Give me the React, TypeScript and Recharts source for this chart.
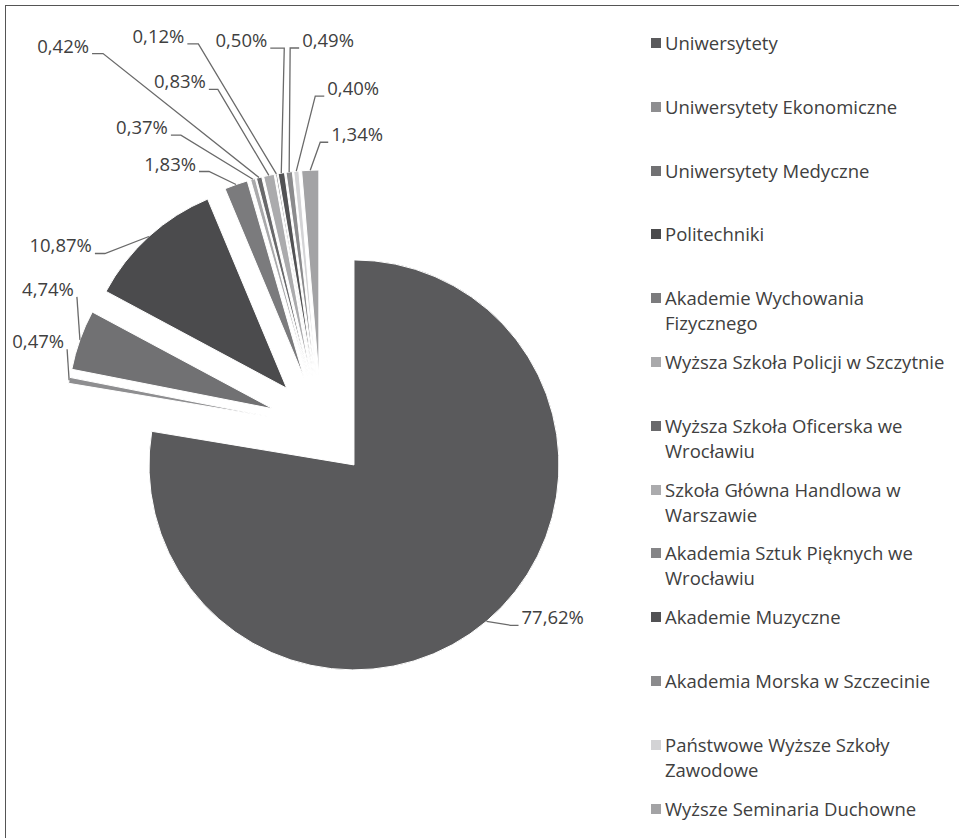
import { Legend, Pie, PieChart, Sector } from "recharts";

const categories = [
  "Uniwersytety",
  "Uniwersytety Ekonomiczne",
  "Uniwersytety Medyczne",
  "Politechniki",
  "Akademie Wychowania Fizycznego",
  "Wyższa Szkoła Policji w Szczytnie",
  "Wyższa Szkoła Oficerska we Wrocławiu",
  "Szkoła Główna Handlowa w Warszawie",
  "Akademia Sztuk Pięknych we Wrocławiu",
  "Akademie Muzyczne",
  "Akademia Morska w Szczecinie",
  "Państwowe Wyższe Szkoły Zawodowe",
  "Wyższe Seminaria Duchowne",
];

const shares = [77.62, 0.47, 4.74, 10.87, 1.83, 0.37, 0.42, 0.83, 0.12, 0.5, 0.49, 0.4, 1.34];

const colors = [
  "#5a5a5c", "#8e8e90", "#717173", "#4b4b4d", "#7b7b7d", "#a9a9ab", "#69696b",
  "#ababad", "#858587", "#525254", "#8b8b8d", "#d3d3d5", "#a3a3a5",
];

// where each percentage label sits, relative to the outer point of its slice
const labelLayout = [
  { dx: 35, dy: 3, side: "right", tail: 8 },
  { dx: -5, dy: -32, side: "left", tail: 0 },
  { dx: -6, dy: -44, side: "left", tail: 0 },
  { dx: -57, dy: 16, side: "left", tail: 10 },
  { dx: -40, dy: -14, side: "left", tail: 10 },
  { dx: -85, dy: -45, side: "left", tail: 10 },
  { dx: -170, dy: -125, side: "left", tail: 11 },
  { dx: -63, dy: -87, side: "left", tail: 9 },
  { dx: -92, dy: -131, side: "left", tail: 11 },
  { dx: -14, dy: -126, side: "left", tail: 14 },
  { dx: 13, dy: -125, side: "right", tail: 9 },
  { dx: 31, dy: -76, side: "right", tail: 9 },
  { dx: 21, dy: -29, side: "right", tail: 8 },
];

const data = categories.map((name, i) => ({ name, value: shares[i], fill: colors[i] }));

const FONT = "'Open Sans', 'Noto Sans', sans-serif";
const TEXT = "#404040";
const FONT_SIZE = 18.5;
const EXPLODE = 51;
const RADIAN = Math.PI / 180;

function formatShare(value: number) {
  return `${value.toFixed(2).replace(".", ",")}%`;
}

function shifted(x: number, y: number, angle: number, dist: number) {
  return [x + dist * Math.cos(-angle * RADIAN), y + dist * Math.sin(-angle * RADIAN)];
}

function ExplodedSector(props: any) {
  const [x, y] = shifted(props.cx, props.cy, props.midAngle, EXPLODE);
  return <Sector {...props} cx={x} cy={y} />;
}

function renderLabel(props: any) {
  const { cx, cy, midAngle, outerRadius, index } = props;
  const [ex, ey] = shifted(cx, cy, midAngle, EXPLODE);
  const [ax, ay] = shifted(ex, ey, midAngle, outerRadius);
  const { dx, dy, side, tail } = labelLayout[index];
  const tx = ax + dx;
  const ty = ay + dy;
  const edge = side === "left" ? tx + 3 : tx - 3;
  const elbow = side === "left" ? edge + tail : edge - tail;
  return (
    <g key={`label-${index}`}>
      <polyline
        points={`${edge},${ty + 1} ${elbow},${ty + 1} ${ax},${ay}`}
        fill="none"
        stroke="#6a6a6a"
        strokeWidth={1.3}
      />
      <text
        x={tx}
        y={ty}
        textAnchor={side === "left" ? "end" : "start"}
        fontFamily={FONT}
        fontSize={FONT_SIZE}
        fill={TEXT}
      >
        {formatShare(shares[index])}
      </text>
    </g>
  );
}

function renderLegend() {
  return (
    <div style={{ fontFamily: FONT, fontSize: FONT_SIZE, color: TEXT, lineHeight: "25px" }}>
      {data.map((entry) => (
        <div key={entry.name} style={{ display: "flex", height: 63.8 }}>
          <span
            style={{
              width: 10,
              height: 10,
              marginTop: 8,
              marginRight: 4,
              flex: "none",
              background: entry.fill,
            }}
          />
          <span style={{ width: 288 }}>{entry.name}</span>
        </div>
      ))}
    </div>
  );
}

export default function App() {
  return (
    <div style={{ position: "absolute", left: 0, top: 0, width: 959, height: 838, background: "#fff" }}>
      <div
        style={{
          position: "absolute",
          left: 5,
          top: 5,
          right: 0,
          bottom: 0,
          borderTop: "1.5px solid #555",
          borderLeft: "1.5px solid #555",
        }}
      />
      <PieChart width={959} height={838} style={{ position: "absolute", left: 0, top: 0 }}>
        <Pie
          data={data}
          dataKey="value"
          nameKey="name"
          cx={316}
          cy={421}
          outerRadius={205}
          startAngle={90}
          endAngle={-270}
          stroke="#fff"
          strokeWidth={1}
          shape={ExplodedSector}
          label={renderLabel}
          labelLine={false}
          isAnimationActive={false}
        />
        <Legend
          layout="vertical"
          align="right"
          verticalAlign="top"
          content={renderLegend}
          wrapperStyle={{ left: 651, top: 30, width: 305 }}
        />
      </PieChart>
    </div>
  );
}
